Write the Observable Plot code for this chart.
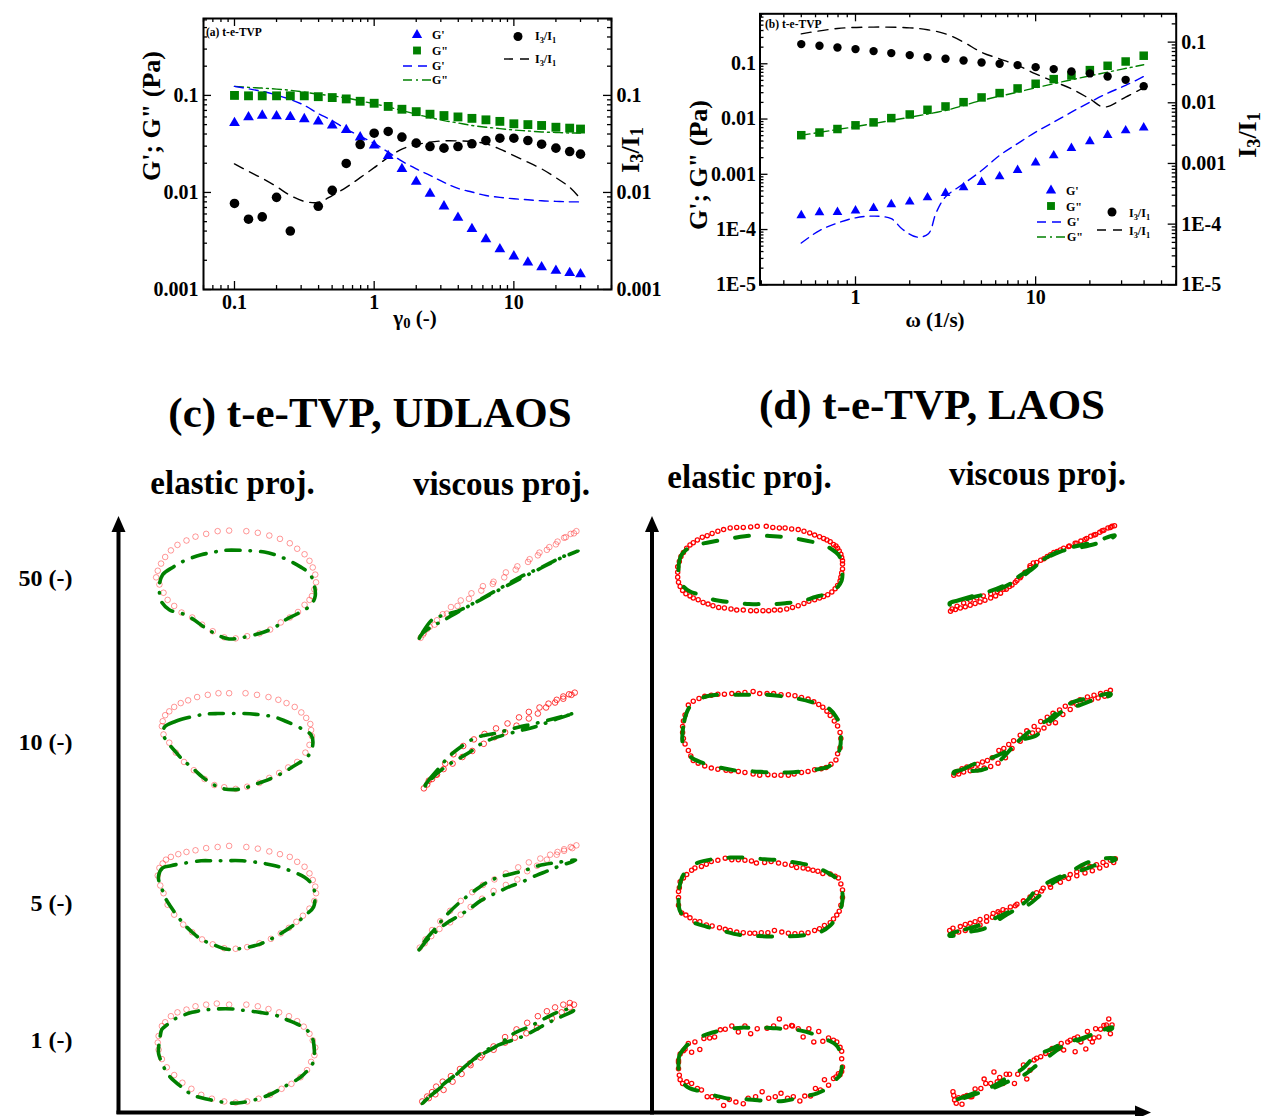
<!DOCTYPE html>
<html><head><meta charset="utf-8">
<script src="https://cdn.jsdelivr.net/npm/d3@7"></script>
<script src="https://cdn.jsdelivr.net/npm/@observablehq/plot@0.6"></script>
<style>
html,body{margin:0;padding:0;background:#fff;overflow:hidden}
#root{position:relative;width:1264px;height:1116px;overflow:hidden;font-family:"Liberation Serif","Times New Roman",Times,serif;font-weight:bold;color:#000;background:#fff}
.lbl{position:absolute;white-space:nowrap;font-weight:bold;line-height:1}
.lbl sub{font-size:0.7em;vertical-align:-0.22em;line-height:0}
</style></head>
<body><div id="root"></div>
<script>
// ================= panel (a): amplitude sweep =================
const gammaA = [0.1,0.126,0.158,0.2,0.251,0.316,0.398,0.501,0.631,0.794,1,1.26,1.58,2,2.51,3.16,3.98,5.01,6.31,7.94,10,12.6,15.8,20,25.1,30];
const GpA  = [0.052,0.0597,0.062,0.061,0.060,0.057,0.054,0.049,0.044,0.037,0.0305,0.0238,0.0175,0.0129,0.0097,0.0072,0.0055,0.0042,0.0033,0.0026,0.0022,0.0019,0.0017,0.00156,0.00148,0.00144];
const GppA = [0.1,0.099,0.099,0.099,0.099,0.099,0.097,0.095,0.092,0.087,0.083,0.077,0.072,0.068,0.064,0.062,0.060,0.058,0.056,0.054,0.051,0.050,0.049,0.047,0.046,0.045];
const I31A = [0.0077,0.0053,0.0056,0.0089,0.004,null,0.0072,0.0105,0.0199,0.0312,0.0408,0.0425,0.0372,0.0322,0.0297,0.0286,0.0297,0.0317,0.0343,0.0362,0.0362,0.0343,0.0314,0.0286,0.0264,0.0248];
const GpModelA  = [0.124,0.117,0.110,0.101,0.091,0.079,0.065,0.055,0.045,0.038,0.032,0.026,0.021,0.0175,0.015,0.0127,0.011,0.0101,0.0093,0.0089,0.0086,0.0084,0.0082,0.0081,0.008,0.008];
const GppModelA = [0.124,0.121,0.119,0.116,0.113,0.108,0.103,0.099,0.094,0.088,0.082,0.076,0.070,0.064,0.059,0.055,0.052,0.049,0.047,0.0455,0.044,0.043,0.042,0.0415,0.041,0.041];
const I31ModelA = [0.0197,0.0165,0.014,0.0115,0.0093,0.0081,0.0079,0.0093,0.0113,0.0142,0.018,0.023,0.028,0.031,0.033,0.034,0.034,0.0335,0.0317,0.028,0.024,0.0205,0.0175,0.0142,0.0113,0.0086];
const xTicksA = [0.1,1,10], xTickLabelsA = ["0.1","1","10"];
const yTicksA = [0.001,0.01,0.1], yTickLabelsA = ["0.001","0.01","0.1"];

// ================= panel (b): frequency sweep =================
const omegaB = [0.5,0.631,0.794,1,1.26,1.58,2,2.51,3.16,3.98,5.01,6.31,7.94,10,12.6,15.8,20,25.1,31.6,39.8];
const GpB  = [1.8e-4,2.04e-4,2.07e-4,2.2e-4,2.44e-4,2.85e-4,3.18e-4,3.8e-4,4.57e-4,5.8e-4,7.2e-4,9.1e-4,1.19e-3,1.62e-3,2.19e-3,2.98e-3,3.93e-3,5.1e-3,6.2e-3,7.0e-3];
const GppB = [5.1e-3,5.7e-3,6.6e-3,7.7e-3,8.7e-3,0.0104,0.0121,0.0147,0.0169,0.0202,0.0246,0.0295,0.0358,0.0435,0.0528,0.0615,0.0768,0.092,0.110,0.140];
const I31B = [0.0927,0.087,0.0817,0.0767,0.0711,0.0659,0.0611,0.0566,0.0531,0.0499,0.0462,0.044,0.0418,0.0387,0.0359,0.0328,0.0305,0.0272,0.0239,0.0188];
const omegaGpModelB = [0.5,0.631,0.794,1,1.26,1.58,1.83,2.2,2.54,2.8,3.16,3.98,5.01,6.31,7.94,10,12.6,15.8,20,25.1,31.6,39.8];
const GpModelB = [5.7e-5,9.6e-5,1.31e-4,1.63e-4,1.75e-4,1.57e-4,1.0e-4,7.3e-5,8.4e-5,2.0e-4,3.9e-4,6.7e-4,1.17e-3,2.2e-3,3.6e-3,5.8e-3,8.8e-3,0.0133,0.0202,0.0294,0.0406,0.059];
const omegaGppModelB = [0.5,1,2,3.16,5.01,7.94,10,15.8,25.1,39.8];
const GppModelB = [5.1e-3,7.3e-3,0.0108,0.0143,0.0217,0.0307,0.0368,0.0513,0.0707,0.096];
const omegaI31ModelB = [0.5,0.794,1.26,2,2.51,3.16,3.98,5.01,6.31,7.94,10,12.6,15.8,20,24,31.6,39.8];
const I31ModelB = [0.137,0.168,0.177,0.172,0.16,0.137,0.1,0.068,0.053,0.0413,0.030,0.0225,0.017,0.0116,0.0085,0.0124,0.0177];
const xTicksB = [1,10], xTickLabelsB = ["1","10"];
const yTicksB = [1e-5,1e-4,1e-3,1e-2,0.1], yTickLabelsB = ["1E-5","1E-4","0.001","0.01","0.1"];
const rTicksB = [1e-5,1e-4,1e-3,1e-2,0.1], rTickLabelsB = ["1E-5","1E-4","0.001","0.01","0.1"];

// ================= panels (c),(d): normalised Lissajous loops =================
const rowsLD = ["50","10","5","1"];
const colsLD = ["elastic","viscous"];
const colLabels = {elastic:"elastic proj.", viscous:"viscous proj."};
const rowLabels = {"50":"50 (-)","10":"10 (-)","5":"5 (-)","1":"1 (-)"};

// (c) UDLAOS
const cEl50Exp=[[-0.98,0.13],[-0.96,0.25],[-0.92,0.38],[-0.87,0.50],[-0.80,0.62],[-0.72,0.72],[-0.61,0.80],[-0.50,0.87],[-0.37,0.92],[-0.23,0.97],[-0.09,0.98],[0.12,0.97],[0.26,0.94],[0.40,0.89],[0.53,0.83],[0.65,0.75],[0.74,0.65],[0.83,0.55],[0.89,0.43],[0.93,0.31],[0.96,0.18],[0.97,0.04],[0.95,-0.09],[0.92,-0.21],[0.89,-0.28],[0.83,-0.37],[0.75,-0.50],[0.65,-0.60],[0.54,-0.69],[0.41,-0.82],[0.28,-0.89],[0.13,-0.94],[-0.01,-0.98],[-0.15,-0.96],[-0.29,-0.85],[-0.42,-0.73],[-0.54,-0.60],[-0.67,-0.51],[-0.76,-0.39],[-0.84,-0.28],[-0.89,-0.15],[-0.94,0.00]];
const cEl50Mod=[[-0.94,0.00],[-0.90,0.18],[-0.77,0.32],[-0.64,0.43],[-0.43,0.54],[-0.27,0.59],[-0.15,0.62],[0.07,0.62],[0.34,0.59],[0.47,0.54],[0.59,0.47],[0.78,0.32],[0.89,0.20],[0.94,0.04],[0.96,-0.21],[0.91,-0.37],[0.83,-0.46],[0.72,-0.55],[0.60,-0.64],[0.52,-0.73],[0.41,-0.82],[0.28,-0.89],[0.05,-0.97],[-0.09,-0.99],[-0.17,-0.96],[-0.29,-0.87],[-0.39,-0.78],[-0.54,-0.62],[-0.66,-0.53],[-0.82,-0.46],[-0.92,-0.30],[-0.94,-0.14]];
const cVi50Exp=[[-0.95,-0.97],[-0.92,-0.91],[-0.87,-0.81],[-0.78,-0.73],[-0.68,-0.54],[-0.58,-0.41],[-0.46,-0.29],[-0.33,-0.16],[-0.19,-0.03],[-0.06,0.05],[0.09,0.22],[0.23,0.33],[0.38,0.46],[0.50,0.58],[0.62,0.68],[0.72,0.78],[0.80,0.85],[0.88,0.92],[0.95,0.97],[0.92,0.93],[0.82,0.86],[0.70,0.73],[0.59,0.63],[0.48,0.53],[0.36,0.41],[0.21,0.27],[0.07,0.13],[-0.07,0.01],[-0.21,-0.11],[-0.36,-0.26],[-0.50,-0.39],[-0.63,-0.53],[-0.75,-0.65],[-0.84,-0.77],[-0.91,-0.88]];
const cVi50Mod=[[-0.97,-1.01],[-0.92,-0.86],[-0.80,-0.63],[-0.62,-0.54],[-0.46,-0.46],[-0.21,-0.26],[0.03,-0.06],[0.27,0.14],[0.52,0.31],[0.76,0.49],[0.97,0.61],[0.76,0.48],[0.52,0.30],[0.27,0.11],[0.03,-0.08],[-0.21,-0.27],[-0.46,-0.47],[-0.68,-0.66],[-0.84,-0.79],[-0.95,-0.93]];
const cEl10Exp=[[-0.91,0.26],[-0.90,0.35],[-0.87,0.46],[-0.82,0.53],[-0.76,0.61],[-0.68,0.68],[-0.59,0.73],[-0.48,0.79],[-0.35,0.83],[-0.22,0.86],[-0.09,0.86],[0.11,0.86],[0.25,0.83],[0.39,0.79],[0.51,0.74],[0.61,0.68],[0.71,0.61],[0.79,0.51],[0.85,0.41],[0.90,0.30],[0.91,0.19],[0.92,0.08],[0.89,-0.08],[0.84,-0.22],[0.74,-0.39],[0.63,-0.49],[0.52,-0.59],[0.40,-0.68],[0.28,-0.77],[0.13,-0.84],[-0.01,-0.88],[-0.15,-0.85],[-0.27,-0.81],[-0.39,-0.70],[-0.52,-0.54],[-0.64,-0.39],[-0.74,-0.22],[-0.82,-0.04],[-0.89,0.11]];
const cEl10Mod=[[-0.88,0.24],[-0.74,0.35],[-0.52,0.44],[-0.37,0.48],[-0.23,0.49],[-0.03,0.49],[0.09,0.49],[0.34,0.46],[0.48,0.42],[0.60,0.35],[0.80,0.21],[0.91,0.10],[0.93,-0.08],[0.87,-0.29],[0.76,-0.41],[0.68,-0.48],[0.60,-0.56],[0.34,-0.74],[0.20,-0.81],[0.07,-0.88],[-0.15,-0.88],[-0.27,-0.81],[-0.41,-0.67],[-0.56,-0.47],[-0.65,-0.36],[-0.74,-0.21],[-0.88,0.06]];
const cVi10Exp=[[-0.91,-0.87],[-0.87,-0.80],[-0.81,-0.70],[-0.75,-0.62],[-0.65,-0.42],[-0.55,-0.25],[-0.43,-0.10],[-0.30,0.02],[-0.17,0.12],[-0.03,0.22],[0.11,0.31],[0.25,0.42],[0.37,0.52],[0.50,0.60],[0.61,0.67],[0.71,0.74],[0.79,0.80],[0.86,0.84],[0.93,0.87],[0.89,0.83],[0.79,0.76],[0.69,0.69],[0.58,0.60],[0.48,0.49],[0.37,0.40],[0.22,0.27],[0.08,0.15],[-0.05,0.06],[-0.18,-0.06],[-0.32,-0.19],[-0.44,-0.30],[-0.56,-0.42],[-0.67,-0.52],[-0.76,-0.62],[-0.85,-0.73]];
const cVi10Mod=[[-0.93,-0.89],[-0.85,-0.72],[-0.73,-0.51],[-0.61,-0.30],[-0.49,-0.15],[-0.28,0.05],[-0.04,0.13],[0.24,0.24],[0.45,0.31],[0.73,0.42],[0.93,0.50],[0.69,0.38],[0.45,0.25],[0.24,0.17],[0.00,0.07],[-0.20,-0.05],[-0.33,-0.19],[-0.45,-0.30],[-0.61,-0.44],[-0.75,-0.60],[-0.85,-0.75]];
const cEl5Exp=[[-0.96,0.38],[-0.94,0.52],[-0.90,0.60],[-0.86,0.67],[-0.80,0.72],[-0.71,0.77],[-0.61,0.81],[-0.50,0.84],[-0.37,0.88],[-0.23,0.90],[-0.09,0.92],[0.12,0.90],[0.26,0.87],[0.40,0.82],[0.53,0.77],[0.65,0.72],[0.74,0.63],[0.83,0.54],[0.89,0.42],[0.93,0.30],[0.96,0.18],[0.97,0.06],[0.95,-0.08],[0.89,-0.22],[0.81,-0.35],[0.73,-0.46],[0.64,-0.57],[0.54,-0.67],[0.42,-0.77],[0.28,-0.85],[0.13,-0.92],[-0.01,-0.95],[-0.15,-0.94],[-0.29,-0.87],[-0.42,-0.78],[-0.54,-0.65],[-0.65,-0.51],[-0.76,-0.33],[-0.84,-0.15],[-0.89,0.06],[-0.93,0.20]];
const cEl5Mod=[[-0.95,0.38],[-0.90,0.52],[-0.80,0.56],[-0.66,0.60],[-0.43,0.65],[-0.29,0.65],[-0.17,0.65],[0.07,0.65],[0.34,0.60],[0.47,0.56],[0.60,0.50],[0.83,0.35],[0.91,0.24],[0.95,0.10],[0.94,-0.19],[0.83,-0.35],[0.74,-0.47],[0.50,-0.71],[0.38,-0.80],[0.28,-0.87],[0.03,-0.95],[-0.11,-0.96],[-0.29,-0.87],[-0.43,-0.78],[-0.54,-0.65],[-0.66,-0.47],[-0.86,-0.05],[-0.90,0.10],[-0.94,0.24]];
const cVi5Exp=[[-0.96,-0.93],[-0.89,-0.78],[-0.81,-0.61],[-0.71,-0.45],[-0.59,-0.26],[-0.46,-0.08],[-0.32,0.08],[-0.19,0.21],[-0.05,0.31],[0.09,0.42],[0.24,0.53],[0.37,0.62],[0.51,0.69],[0.63,0.76],[0.72,0.81],[0.80,0.86],[0.88,0.90],[0.95,0.93],[0.90,0.88],[0.80,0.83],[0.71,0.76],[0.59,0.67],[0.47,0.56],[0.35,0.46],[0.23,0.31],[0.09,0.21],[-0.06,0.10],[-0.20,-0.04],[-0.34,-0.19],[-0.46,-0.33],[-0.59,-0.47],[-0.72,-0.59],[-0.82,-0.72],[-0.90,-0.85]];
const cVi5Mod=[[-0.97,-0.97],[-0.89,-0.79],[-0.77,-0.58],[-0.63,-0.33],[-0.46,-0.09],[-0.26,0.14],[-0.16,0.24],[-0.02,0.34],[0.21,0.43],[0.35,0.49],[0.49,0.56],[0.72,0.62],[0.94,0.66],[0.72,0.54],[0.59,0.46],[0.47,0.39],[0.25,0.24],[0.15,0.19],[0.02,0.10],[-0.22,-0.08],[-0.32,-0.19],[-0.46,-0.33],[-0.63,-0.48],[-0.77,-0.65],[-0.87,-0.79]];
const cEl1Exp=[[-0.96,0.18],[-0.95,0.30],[-0.91,0.48],[-0.87,0.55],[-0.80,0.66],[-0.72,0.73],[-0.61,0.78],[-0.50,0.84],[-0.37,0.87],[-0.24,0.89],[-0.09,0.87],[0.12,0.87],[0.26,0.84],[0.39,0.79],[0.52,0.73],[0.64,0.66],[0.74,0.57],[0.82,0.47],[0.89,0.34],[0.93,0.22],[0.96,0.09],[0.95,-0.05],[0.91,-0.17],[0.86,-0.32],[0.78,-0.45],[0.67,-0.57],[0.55,-0.66],[0.41,-0.77],[0.27,-0.84],[0.13,-0.89],[-0.01,-0.91],[-0.15,-0.89],[-0.30,-0.84],[-0.43,-0.77],[-0.55,-0.66],[-0.66,-0.55],[-0.76,-0.41],[-0.85,-0.27],[-0.91,-0.12],[-0.95,0.05]];
const cEl1Mod=[[-0.95,0.09],[-0.93,0.30],[-0.91,0.42],[-0.85,0.50],[-0.74,0.62],[-0.54,0.73],[-0.40,0.77],[-0.26,0.79],[-0.03,0.79],[0.07,0.77],[0.29,0.73],[0.47,0.68],[0.59,0.61],[0.80,0.47],[0.90,0.34],[0.94,0.18],[0.94,-0.16],[0.88,-0.30],[0.78,-0.45],[0.56,-0.64],[0.43,-0.75],[0.27,-0.84],[0.07,-0.91],[-0.07,-0.92],[-0.22,-0.89],[-0.44,-0.82],[-0.54,-0.77],[-0.66,-0.64],[-0.83,-0.41],[-0.90,-0.22],[-0.95,-0.02]];
const cVi1Exp=[[-0.93,-0.89],[-0.87,-0.80],[-0.81,-0.72],[-0.76,-0.62],[-0.68,-0.53],[-0.58,-0.43],[-0.47,-0.30],[-0.35,-0.20],[-0.20,-0.05],[-0.06,0.11],[0.08,0.28],[0.22,0.42],[0.35,0.54],[0.48,0.66],[0.59,0.75],[0.69,0.82],[0.79,0.87],[0.87,0.90],[0.92,0.87],[0.87,0.82],[0.77,0.73],[0.65,0.62],[0.47,0.45],[0.34,0.35],[0.20,0.27],[0.08,0.18],[-0.06,0.05],[-0.22,-0.09],[-0.34,-0.23],[-0.45,-0.39],[-0.56,-0.53],[-0.67,-0.68],[-0.77,-0.76],[-0.85,-0.83]];
const cVi1Mod=[[-0.93,-0.93],[-0.83,-0.79],[-0.69,-0.62],[-0.55,-0.45],[-0.39,-0.23],[-0.22,-0.05],[-0.02,0.12],[0.18,0.34],[0.39,0.48],[0.59,0.64],[0.75,0.75],[0.92,0.80],[0.92,0.77],[0.75,0.64],[0.59,0.53],[0.45,0.41],[0.26,0.27],[0.04,0.16],[-0.18,0.02],[-0.35,-0.18],[-0.51,-0.39],[-0.65,-0.55],[-0.79,-0.73],[-0.89,-0.87]];

// (d) LAOS
const dEl50Exp=[[-1.01,-0.07],[-1.01,0.03],[-0.99,0.13],[-0.97,0.22],[-0.94,0.29],[-0.90,0.37],[-0.86,0.43],[-0.82,0.47],[-0.77,0.52],[-0.71,0.57],[-0.65,0.60],[-0.59,0.64],[-0.52,0.68],[-0.45,0.71],[-0.37,0.74],[-0.29,0.75],[-0.21,0.75],[-0.12,0.76],[-0.04,0.77],[0.07,0.77],[0.15,0.75],[0.23,0.74],[0.30,0.74],[0.38,0.72],[0.46,0.71],[0.53,0.68],[0.60,0.65],[0.66,0.61],[0.72,0.58],[0.77,0.55],[0.81,0.52],[0.85,0.49],[0.89,0.44],[0.92,0.41],[0.94,0.37],[0.96,0.32],[0.98,0.26],[0.99,0.20],[1.00,0.14],[1.00,0.08],[1.00,-0.01],[0.99,-0.08],[0.98,-0.16],[0.97,-0.23],[0.94,-0.31],[0.91,-0.37],[0.87,-0.43],[0.82,-0.48],[0.77,-0.51],[0.72,-0.54],[0.66,-0.57],[0.59,-0.60],[0.53,-0.64],[0.46,-0.68],[0.39,-0.71],[0.32,-0.74],[0.24,-0.76],[0.17,-0.76],[0.10,-0.77],[0.03,-0.77],[-0.05,-0.77],[-0.12,-0.77],[-0.21,-0.76],[-0.29,-0.76],[-0.36,-0.74],[-0.44,-0.72],[-0.51,-0.71],[-0.58,-0.68],[-0.64,-0.65],[-0.70,-0.62],[-0.76,-0.57],[-0.82,-0.54],[-0.86,-0.50],[-0.91,-0.46],[-0.95,-0.40],[-0.98,-0.33],[-1.00,-0.25],[-1.01,-0.16]];
const dEl50Mod=[[-1.00,-0.04],[-0.99,0.14],[-0.96,0.26],[-0.88,0.37],[-0.77,0.43],[-0.59,0.49],[-0.39,0.54],[-0.19,0.59],[0.00,0.60],[0.16,0.59],[0.32,0.57],[0.49,0.53],[0.65,0.48],[0.77,0.43],[0.87,0.35],[0.95,0.25],[0.99,0.11],[1.00,-0.07],[0.99,-0.22],[0.94,-0.34],[0.87,-0.42],[0.77,-0.48],[0.67,-0.52],[0.49,-0.60],[0.32,-0.63],[0.16,-0.65],[0.00,-0.65],[-0.14,-0.65],[-0.35,-0.62],[-0.57,-0.57],[-0.74,-0.48],[-0.86,-0.42],[-0.94,-0.33],[-0.99,-0.19]];
const dVi50Exp=[[-1.00,-0.78],[-0.94,-0.75],[-0.88,-0.72],[-0.82,-0.70],[-0.76,-0.67],[-0.70,-0.64],[-0.64,-0.61],[-0.58,-0.58],[-0.51,-0.54],[-0.45,-0.50],[-0.39,-0.45],[-0.32,-0.38],[-0.25,-0.30],[-0.19,-0.22],[-0.14,-0.14],[-0.09,-0.08],[-0.03,0.02],[0.05,0.11],[0.14,0.18],[0.22,0.25],[0.30,0.31],[0.38,0.37],[0.45,0.41],[0.52,0.46],[0.59,0.50],[0.66,0.55],[0.71,0.59],[0.77,0.62],[0.82,0.66],[0.87,0.70],[0.92,0.74],[0.97,0.77],[1.00,0.78],[0.95,0.75],[0.85,0.69],[0.75,0.61],[0.64,0.53],[0.54,0.46],[0.44,0.40],[0.34,0.34],[0.26,0.29],[0.18,0.22],[0.10,0.15],[0.01,0.10],[-0.03,0.05],[-0.09,-0.07],[-0.15,-0.17],[-0.21,-0.25],[-0.28,-0.33],[-0.35,-0.38],[-0.43,-0.42],[-0.51,-0.46],[-0.60,-0.50],[-0.68,-0.54],[-0.76,-0.58],[-0.84,-0.63],[-0.92,-0.69],[-0.98,-0.74]];
const dVi50Mod=[[-1.01,-0.63],[-0.90,-0.58],[-0.72,-0.50],[-0.51,-0.41],[-0.33,-0.30],[-0.13,-0.11],[-0.03,-0.01],[0.16,0.19],[0.36,0.34],[0.60,0.43],[0.77,0.49],[1.00,0.61],[1.00,0.59],[0.79,0.46],[0.54,0.37],[0.34,0.31],[0.14,0.16],[-0.03,-0.04],[-0.15,-0.17],[-0.35,-0.34],[-0.53,-0.45],[-0.74,-0.53],[-0.92,-0.62],[-1.01,-0.66]];
const dEl10Exp=[[-0.95,0.00],[-0.95,0.11],[-0.94,0.21],[-0.92,0.32],[-0.88,0.50],[-0.82,0.57],[-0.75,0.62],[-0.68,0.66],[-0.60,0.68],[-0.52,0.70],[-0.44,0.70],[-0.35,0.71],[-0.27,0.71],[-0.19,0.73],[-0.09,0.75],[-0.01,0.71],[0.08,0.71],[0.16,0.71],[0.25,0.69],[0.34,0.69],[0.42,0.67],[0.50,0.64],[0.58,0.61],[0.65,0.56],[0.71,0.51],[0.76,0.46],[0.81,0.39],[0.85,0.31],[0.90,0.21],[0.94,0.12],[0.97,0.00],[0.98,-0.11],[0.97,-0.28],[0.94,-0.39],[0.92,-0.50],[0.86,-0.58],[0.80,-0.64],[0.74,-0.66],[0.66,-0.68],[0.58,-0.71],[0.50,-0.73],[0.41,-0.76],[0.34,-0.78],[0.25,-0.78],[0.17,-0.78],[0.09,-0.77],[-0.01,-0.78],[-0.09,-0.76],[-0.19,-0.73],[-0.27,-0.71],[-0.36,-0.70],[-0.42,-0.69],[-0.52,-0.67],[-0.60,-0.65],[-0.68,-0.61],[-0.76,-0.56],[-0.82,-0.51],[-0.85,-0.43],[-0.88,-0.33],[-0.92,-0.21],[-0.94,-0.11]];
const dEl10Mod=[[-0.95,0.00],[-0.93,0.21],[-0.88,0.43],[-0.80,0.56],[-0.70,0.64],[-0.52,0.69],[-0.27,0.69],[-0.09,0.69],[0.07,0.69],[0.27,0.66],[0.48,0.61],[0.66,0.54],[0.76,0.49],[0.84,0.43],[0.92,0.29],[0.97,0.14],[0.98,-0.07],[0.97,-0.28],[0.90,-0.53],[0.82,-0.63],[0.74,-0.66],[0.58,-0.70],[0.34,-0.73],[0.13,-0.73],[-0.09,-0.71],[-0.27,-0.70],[-0.50,-0.64],[-0.68,-0.57],[-0.78,-0.51],[-0.84,-0.46],[-0.90,-0.32],[-0.95,-0.18]];
const dVi10Exp=[[-0.96,-0.78],[-0.92,-0.71],[-0.86,-0.66],[-0.80,-0.63],[-0.74,-0.61],[-0.67,-0.58],[-0.61,-0.54],[-0.55,-0.51],[-0.49,-0.46],[-0.41,-0.33],[-0.35,-0.29],[-0.29,-0.22],[-0.23,-0.15],[-0.15,-0.05],[-0.07,0.03],[0.02,0.11],[0.10,0.20],[0.18,0.28],[0.25,0.35],[0.33,0.41],[0.40,0.48],[0.48,0.54],[0.58,0.60],[0.67,0.65],[0.75,0.68],[0.83,0.71],[0.90,0.73],[0.95,0.77],[0.94,0.70],[0.88,0.66],[0.80,0.63],[0.72,0.60],[0.63,0.56],[0.54,0.51],[0.46,0.42],[0.37,0.33],[0.28,0.18],[0.20,0.17],[0.14,0.08],[0.07,0.04],[0.00,-0.01],[-0.07,-0.08],[-0.15,-0.16],[-0.25,-0.29],[-0.33,-0.46],[-0.42,-0.56],[-0.51,-0.62],[-0.59,-0.65],[-0.67,-0.68],[-0.76,-0.70],[-0.84,-0.72],[-0.90,-0.76]];
const dVi10Mod=[[-0.96,-0.72],[-0.86,-0.68],[-0.72,-0.58],[-0.51,-0.47],[-0.31,-0.33],[-0.13,-0.10],[0.04,0.11],[0.20,0.24],[0.32,0.40],[0.50,0.56],[0.73,0.64],[0.95,0.71],[0.95,0.68],[0.77,0.61],[0.58,0.50],[0.41,0.43],[0.20,0.18],[0.04,-0.06],[-0.17,-0.15],[-0.25,-0.28],[-0.45,-0.58],[-0.61,-0.68],[-0.80,-0.71],[-0.96,-0.75]];
const dEl5Exp=[[-1.00,-0.02],[-1.00,-0.16],[-0.96,-0.30],[-0.91,-0.34],[-0.86,-0.39],[-0.80,-0.45],[-0.74,-0.46],[-0.66,-0.52],[-0.59,-0.54],[-0.50,-0.57],[-0.43,-0.60],[-0.37,-0.62],[-0.29,-0.65],[-0.21,-0.66],[-0.13,-0.67],[-0.07,-0.67],[0.01,-0.66],[0.09,-0.66],[0.17,-0.62],[0.26,-0.65],[0.34,-0.67],[0.42,-0.68],[0.50,-0.67],[0.58,-0.66],[0.66,-0.62],[0.72,-0.59],[0.78,-0.53],[0.85,-0.48],[0.89,-0.41],[0.93,-0.34],[0.96,-0.27],[0.98,-0.16],[1.00,-0.02],[1.00,0.12],[0.98,0.23],[0.95,0.34],[0.91,0.37],[0.85,0.41],[0.76,0.42],[0.70,0.46],[0.64,0.48],[0.58,0.50],[0.52,0.52],[0.44,0.53],[0.38,0.57],[0.30,0.59],[0.22,0.61],[0.13,0.64],[0.05,0.62],[-0.05,0.61],[-0.11,0.65],[-0.19,0.66],[-0.27,0.67],[-0.35,0.67],[-0.43,0.70],[-0.52,0.66],[-0.60,0.64],[-0.66,0.59],[-0.72,0.55],[-0.80,0.52],[-0.84,0.48],[-0.90,0.40],[-0.94,0.34],[-0.98,0.27],[-0.99,0.16],[-1.00,0.09]];
const dEl5Mod=[[-1.00,-0.02],[-0.99,0.16],[-0.95,0.37],[-0.86,0.54],[-0.76,0.62],[-0.58,0.68],[-0.37,0.71],[-0.17,0.71],[0.05,0.68],[0.26,0.66],[0.46,0.61],[0.66,0.55],[0.80,0.45],[0.91,0.35],[0.97,0.23],[1.00,0.05],[0.99,-0.16],[0.93,-0.37],[0.85,-0.53],[0.74,-0.64],[0.56,-0.70],[0.32,-0.73],[0.13,-0.73],[-0.07,-0.72],[-0.26,-0.70],[-0.48,-0.62],[-0.66,-0.55],[-0.86,-0.45],[-0.94,-0.36],[-0.99,-0.23]];
const dVi5Exp=[[-1.01,-0.62],[-0.97,-0.58],[-0.88,-0.55],[-0.82,-0.51],[-0.76,-0.49],[-0.70,-0.46],[-0.64,-0.42],[-0.56,-0.37],[-0.48,-0.31],[-0.42,-0.28],[-0.36,-0.24],[-0.27,-0.19],[-0.19,-0.14],[-0.11,-0.08],[-0.03,-0.01],[0.05,0.07],[0.13,0.15],[0.21,0.22],[0.29,0.29],[0.38,0.35],[0.46,0.40],[0.54,0.45],[0.62,0.50],[0.70,0.55],[0.78,0.58],[0.86,0.62],[0.95,0.66],[1.01,0.69],[0.99,0.62],[0.90,0.57],[0.82,0.52],[0.73,0.47],[0.64,0.43],[0.54,0.38],[0.44,0.33],[0.34,0.26],[0.22,0.17],[0.11,0.10],[0.00,-0.02],[-0.11,-0.08],[-0.21,-0.17],[-0.32,-0.26],[-0.40,-0.31],[-0.49,-0.38],[-0.56,-0.45],[-0.64,-0.52],[-0.72,-0.58],[-0.82,-0.62],[-0.90,-0.65],[-0.97,-0.69]];
const dVi5Mod=[[-1.01,-0.69],[-0.82,-0.60],[-0.62,-0.51],[-0.42,-0.37],[-0.23,-0.24],[-0.07,-0.08],[0.05,0.13],[0.23,0.29],[0.46,0.45],[0.64,0.60],[0.84,0.69],[1.01,0.69],[1.01,0.67],[0.82,0.60],[0.62,0.49],[0.46,0.42],[0.27,0.27],[0.09,0.02],[-0.05,-0.15],[-0.23,-0.26],[-0.46,-0.47],[-0.58,-0.58],[-0.78,-0.65],[-1.01,-0.72]];
const dEl1Exp=[[0.23,0.76],[0.38,0.64],[0.31,0.61],[0.16,0.63],[0.08,0.59],[-0.04,0.58],[-0.12,0.49],[-0.19,0.63],[-0.27,0.52],[-0.35,0.63],[-0.43,0.57],[-0.49,0.56],[-0.56,0.43],[-0.62,0.41],[-0.69,0.40],[-0.80,0.34],[-0.88,0.31],[-0.92,0.21],[-0.94,0.18],[-0.98,0.12],[-0.84,0.15],[-0.74,0.20],[-1.00,0.00],[-1.00,-0.03],[-1.00,-0.15],[-0.99,-0.27],[-0.98,-0.35],[-0.95,-0.42],[-0.90,-0.39],[-0.84,-0.42],[-0.77,-0.51],[-0.72,-0.54],[-0.65,-0.66],[-0.59,-0.66],[-0.52,-0.68],[-0.45,-0.82],[-0.38,-0.71],[-0.30,-0.76],[-0.21,-0.79],[-0.15,-0.69],[-0.06,-0.66],[0.02,-0.57],[0.10,-0.69],[0.18,-0.66],[0.25,-0.60],[0.33,-0.69],[0.40,-0.66],[0.48,-0.74],[0.54,-0.65],[0.61,-0.65],[0.67,-0.51],[0.73,-0.54],[0.78,-0.35],[0.83,-0.45],[0.89,-0.33],[0.92,-0.30],[0.95,-0.24],[0.97,-0.26],[0.99,-0.20],[1.00,-0.12],[0.99,0.03],[0.99,0.17],[0.97,0.24],[0.93,0.34],[0.89,0.37],[0.83,0.41],[0.76,0.35],[0.71,0.53],[0.65,0.34],[0.59,0.58],[0.52,0.43],[0.46,0.58],[0.39,0.63]];
const dEl1Mod=[[-1.00,-0.09],[-0.99,0.09],[-0.92,0.24],[-0.82,0.37],[-0.63,0.49],[-0.47,0.55],[-0.23,0.60],[-0.04,0.59],[0.06,0.60],[0.25,0.58],[0.48,0.55],[0.65,0.48],[0.81,0.38],[0.93,0.27],[0.99,0.06],[0.99,-0.15],[0.97,-0.27],[0.91,-0.36],[0.81,-0.51],[0.69,-0.60],[0.52,-0.66],[0.28,-0.74],[0.09,-0.74],[-0.15,-0.71],[-0.33,-0.71],[-0.53,-0.65],[-0.74,-0.56],[-0.86,-0.51],[-0.92,-0.45],[-0.99,-0.27]];
const dVi1Exp=[[-0.97,-0.57],[-0.96,-0.64],[-0.95,-0.72],[-0.93,-0.78],[-0.86,-0.80],[-0.90,-0.68],[-0.84,-0.66],[-0.80,-0.64],[-0.76,-0.66],[-0.74,-0.66],[-0.70,-0.52],[-0.63,-0.51],[-0.59,-0.34],[-0.57,-0.42],[-0.51,-0.42],[-0.47,-0.21],[-0.43,-0.39],[-0.40,-0.31],[-0.36,-0.42],[-0.32,-0.25],[-0.28,-0.25],[-0.22,-0.42],[-0.18,-0.25],[-0.11,-0.08],[-0.07,-0.34],[-0.03,-0.18],[0.02,0.01],[0.05,0.04],[0.10,0.07],[0.16,0.13],[0.20,0.16],[0.24,0.22],[0.28,0.23],[0.32,0.22],[0.35,0.31],[0.38,0.19],[0.43,0.34],[0.46,0.37],[0.51,0.40],[0.52,0.16],[0.55,0.43],[0.59,0.34],[0.65,0.21],[0.67,0.53],[0.70,0.40],[0.73,0.34],[0.75,0.41],[0.77,0.58],[0.81,0.43],[0.83,0.57],[0.87,0.64],[0.90,0.65],[0.93,0.76],[0.94,0.57],[0.95,0.49],[0.97,0.65]];
const dVi1Mod=[[-0.97,-0.74],[-0.86,-0.68],[-0.67,-0.57],[-0.47,-0.46],[-0.30,-0.30],[-0.13,-0.16],[0.05,0.10],[0.20,0.19],[0.40,0.33],[0.57,0.39],[0.79,0.51],[0.97,0.61],[0.97,0.58],[0.81,0.53],[0.57,0.37],[0.42,0.31],[0.23,0.11],[0.08,-0.05],[-0.09,-0.25],[-0.26,-0.36],[-0.47,-0.50],[-0.67,-0.60],[-0.86,-0.70],[-0.97,-0.75]];

const loopsC = [
  ["elastic","50",cEl50Exp,cEl50Mod],["viscous","50",cVi50Exp,cVi50Mod],
  ["elastic","10",cEl10Exp,cEl10Mod],["viscous","10",cVi10Exp,cVi10Mod],
  ["elastic","5",cEl5Exp,cEl5Mod],["viscous","5",cVi5Exp,cVi5Mod],
  ["elastic","1",cEl1Exp,cEl1Mod],["viscous","1",cVi1Exp,cVi1Mod]
];
const loopsD = [
  ["elastic","50",dEl50Exp,dEl50Mod],["viscous","50",dVi50Exp,dVi50Mod],
  ["elastic","10",dEl10Exp,dEl10Mod],["viscous","10",dVi10Exp,dVi10Mod],
  ["elastic","5",dEl5Exp,dEl5Mod],["viscous","5",dVi5Exp,dVi5Mod],
  ["elastic","1",dEl1Exp,dEl1Mod],["viscous","1",dVi1Exp,dVi1Mod]
];

// ================= helpers =================
const serif = '"Liberation Serif","Times New Roman",Times,serif';
const root = document.getElementById("root");
function put(node, left, top) {
  node.style.position = "absolute"; node.style.left = left + "px"; node.style.top = top + "px";
  root.appendChild(node);
}
function label(html, cx, cy, size, rot) {
  const d = document.createElement("div");
  d.className = "lbl"; d.innerHTML = html;
  d.style.left = cx + "px"; d.style.top = cy + "px"; d.style.fontSize = size + "px";
  d.style.transform = "translate(-50%,-50%)" + (rot ? " rotate(-90deg)" : "");
  root.appendChild(d);
}
function logRange(lo, hi) {
  const maj = [], min = [];
  for (let e = Math.floor(Math.log10(lo)); e <= Math.ceil(Math.log10(hi)); e++) {
    for (let m = 1; m < 10; m++) {
      const v = m * Math.pow(10, e);
      if (v < lo * 0.999 || v > hi * 1.001) continue;
      (m === 1 ? maj : min).push(v);
    }
  }
  return {maj, min};
}
const fmtDecade = (ticks, labels) => {
  const m = new Map(ticks.map((t, i) => [Math.round(Math.log10(t)), labels[i]]));
  return d => m.get(Math.round(Math.log10(d))) ?? "";
};
function frameTicks(xr, yl, yr, iw, ih, big = 8, small = 4) {
  const o = {stroke: "black", strokeWidth: 1.3};
  return [
    Plot.tickX(xr.maj, {x: d => d, insetTop: ih - big, ...o}),
    Plot.tickX(xr.min, {x: d => d, insetTop: ih - small, ...o}),
    Plot.tickX(xr.maj, {x: d => d, insetBottom: ih - big, ...o}),
    Plot.tickX(xr.min, {x: d => d, insetBottom: ih - small, ...o}),
    Plot.tickY(yl.maj, {y: d => d, insetRight: iw - big, ...o}),
    Plot.tickY(yl.min, {y: d => d, insetRight: iw - small, ...o}),
    Plot.tickY(yr.maj, {y: d => d, insetLeft: iw - big, ...o}),
    Plot.tickY(yr.min, {y: d => d, insetLeft: iw - small, ...o})
  ];
}
const axisFont = {fontSize: 20, fontWeight: "bold", fontFamily: serif, label: null, tickSize: 0};
const plotStyle = {fontFamily: serif, fontWeight: "bold", fontSize: "20px", background: "transparent", overflow: "visible", color: "black"};

// ================= panel (a) =================
{
  const L = {left: 130, width: 550, height: 330, ml: 73, mr: 69, mt: 18, mb: 41};
  const iw = L.width - L.ml - L.mr, ih = L.height - L.mt - L.mb;
  const xd = [0.06, 50], yd = [0.001, 0.62];
  const xr = logRange(...xd), yr = logRange(...yd);
  const rows = gammaA.map((g, i) => ({g, gp: GpA[i], gpp: GppA[i], i31: I31A[i], gpm: GpModelA[i], gppm: GppModelA[i], i31m: I31ModelA[i]}));
  const svg = Plot.plot({
    width: L.width, height: L.height, marginLeft: L.ml, marginRight: L.mr, marginTop: L.mt, marginBottom: L.mb,
    x: {type: "log", domain: xd}, y: {type: "log", domain: yd}, style: plotStyle,
    marks: [
      ...frameTicks(xr, yr, yr, iw, ih),
      Plot.axisX({...axisFont, ticks: xTicksA, tickFormat: fmtDecade(xTicksA, xTickLabelsA), tickPadding: 5}),
      Plot.axisY({...axisFont, anchor: "left", ticks: yTicksA, tickFormat: fmtDecade(yTicksA, yTickLabelsA), tickPadding: 5}),
      Plot.axisY({...axisFont, anchor: "right", ticks: yTicksA, tickFormat: fmtDecade(yTicksA, yTickLabelsA), tickPadding: 5}),
      Plot.line(rows, {x: "g", y: "gppm", stroke: "#008000", strokeWidth: 1.4, strokeDasharray: "9,4,2,4", curve: "catmull-rom"}),
      Plot.line(rows, {x: "g", y: "gpm", stroke: "#0000ff", strokeWidth: 1.4, strokeDasharray: "9,6", curve: "catmull-rom"}),
      Plot.line(rows, {x: "g", y: "i31m", stroke: "black", strokeWidth: 1.4, strokeDasharray: "10,7", curve: "catmull-rom"}),
      Plot.dot(rows, {x: "g", y: "gpp", symbol: "square", fill: "#008000", r: 5}),
      Plot.dot(rows, {x: "g", y: "gp", symbol: "triangle", fill: "#0000ff", r: 4}),
      Plot.dot(rows.filter(d => d.i31 != null), {x: "g", y: "i31", fill: "black", r: 4.8}),
      Plot.frame({stroke: "black", strokeWidth: 2})
    ]
  });
  put(svg, L.left, 0);
}

// ================= panel (b) =================
{
  const L = {left: 680, width: 584, height: 330, ml: 79.5, mr: 88.3, mt: 13.3, mb: 45.7};
  const iw = L.width - L.ml - L.mr, ih = L.height - L.mt - L.mb;
  const xd = [0.295, 60.3], yd = [1e-5, 0.803];
  const rightLo = 1e-5, rightHi = 0.293;
  // right axis (I3/I1) shares the bottom of the left axis but has a longer decade
  const k = (Math.log10(yd[1]) + 5) / (Math.log10(rightHi) + 5);
  const toLeft = v => Math.pow(10, -5 + (Math.log10(v) + 5) * k);
  const xr = logRange(...xd), yl = logRange(...yd);
  const rr0 = logRange(rightLo, rightHi);
  const yr = {maj: rr0.maj.map(toLeft), min: rr0.min.map(toLeft)};
  const rows = omegaB.map((w, i) => ({w, gp: GpB[i], gpp: GppB[i], i31: toLeft(I31B[i])}));
  const gpm = omegaGpModelB.map((w, i) => ({w, v: GpModelB[i]}));
  const gppm = omegaGppModelB.map((w, i) => ({w, v: GppModelB[i]}));
  const i31m = omegaI31ModelB.map((w, i) => ({w, v: toLeft(I31ModelB[i])}));
  const rLab = rTicksB.map((t, i) => ({y: toLeft(t), text: rTickLabelsB[i]}));
  const svg = Plot.plot({
    width: L.width, height: L.height, marginLeft: L.ml, marginRight: L.mr, marginTop: L.mt, marginBottom: L.mb,
    x: {type: "log", domain: xd}, y: {type: "log", domain: yd}, style: plotStyle,
    marks: [
      ...frameTicks(xr, yl, yr, iw, ih),
      Plot.axisX({...axisFont, ticks: xTicksB, tickFormat: fmtDecade(xTicksB, xTickLabelsB), tickPadding: 5}),
      Plot.axisY({...axisFont, anchor: "left", ticks: yTicksB, tickFormat: fmtDecade(yTicksB, yTickLabelsB), tickPadding: 4}),
      Plot.text(rLab, {y: "y", text: "text", frameAnchor: "right", textAnchor: "start", dx: 5, fontSize: 20, fontWeight: "bold", fontFamily: serif, fill: "black"}),
      Plot.line(gppm, {x: "w", y: "v", stroke: "#008000", strokeWidth: 1.4, strokeDasharray: "9,4,2,4", curve: "catmull-rom"}),
      Plot.line(gpm, {x: "w", y: "v", stroke: "#0000ff", strokeWidth: 1.4, strokeDasharray: "9,6", curve: "catmull-rom"}),
      Plot.line(i31m, {x: "w", y: "v", stroke: "black", strokeWidth: 1.4, strokeDasharray: "10,7", curve: "catmull-rom"}),
      Plot.dot(rows, {x: "w", y: "gpp", symbol: "square", fill: "#008000", r: 4.8}),
      Plot.dot(rows, {x: "w", y: "gp", symbol: "triangle", fill: "#0000ff", r: 3.6}),
      Plot.dot(rows, {x: "w", y: "i31", fill: "black", r: 4.2}),
      Plot.frame({stroke: "black", strokeWidth: 2})
    ]
  });
  put(svg, L.left, 0);
}

// ================= panels (c) and (d): faceted Lissajous grids =================
function loopPlot(loops, cfg) {
  const exp = loops.flatMap(([col, row, e]) => e.map(([x, y]) => ({col, row, x, y, strong: cfg.strong.has(col + row)})));
  const mod = loops.flatMap(([col, row, , m]) => m.map(([x, y]) => ({col, row, x, y, id: col + row})));
  const facetW = cfg.facetW, facetH = cfg.facetH, ux = 82, uy = 55;
  const headFont = {anchor: "top", tickSize: 0, tickPadding: cfg.hp, tickFormat: d => colLabels[d], fontSize: 33, fontWeight: "bold", fontFamily: serif, label: null};
  const rowAxes = cfg.rowDy ? rowsLD.map((r, i) => Plot.axisFy({ticks: [r], anchor: "left", tickSize: 0, tickPadding: 33, dy: cfg.rowDy[i], tickFormat: d => rowLabels[d], fontSize: 24, fontWeight: "bold", fontFamily: serif, label: null})) : [];
  return Plot.plot({
    width: cfg.ml + 2 * facetW, height: cfg.mt + 4 * facetH,
    marginLeft: cfg.ml, marginRight: 0, marginTop: cfg.mt, marginBottom: 0,
    x: {domain: [-facetW / 2 / ux, facetW / 2 / ux], axis: null},
    y: {domain: [-facetH / 2 / uy, facetH / 2 / uy], axis: null},
    fx: {domain: colsLD, padding: 0}, fy: {domain: rowsLD, padding: 0, axis: cfg.rowDy ? undefined : null},
    style: {...plotStyle, fontSize: "24px"},
    marks: [
      Plot.axisFx({...headFont, ticks: ["elastic"], dy: cfg.hdy, dx: cfg.dxE}),
      Plot.axisFx({...headFont, ticks: ["viscous"], dy: cfg.hdy2, dx: cfg.dxV}),
      ...rowAxes,
      Plot.dot(exp.filter(d => !d.strong), {fx: "col", fy: "row", x: "x", y: "y", r: cfg.r, stroke: "#ff0000", strokeOpacity: cfg.op, strokeWidth: cfg.sw, fill: "none"}),
      Plot.dot(exp.filter(d => d.strong), {fx: "col", fy: "row", x: "x", y: "y", r: cfg.r, stroke: "#ff0000", strokeOpacity: 0.75, strokeWidth: cfg.sw, fill: "none"}),
      Plot.line(mod, {fx: "col", fy: "row", x: "x", y: "y", z: "id", curve: "catmull-rom-closed", stroke: "#008000", strokeWidth: cfg.lw, strokeDasharray: cfg.dash, strokeLinecap: "round"})
    ]
  });
}
const plotC = loopPlot(loopsC, {facetW: 262, facetH: 156, ml: 105, mt: 60, hp: 13, hdy: 0, hdy2: 1, dxE: -4, dxV: 3, rowDy: [-6, 2, 7, -12],
  r: 2.8, op: 0.4, sw: 1, lw: 3.6, dash: "14,10,0.5,10", strong: new Set(["viscous10", "viscous1"])});
put(plotC, 0, 446);
const plotD = loopPlot(loopsD, {facetW: 272, facetH: 164.7, ml: 0, mt: 50, hp: 0, hdy: 1.5, hdy2: -1, dxE: -11, dxV: 5, rowDy: null,
  r: 2.1, op: 1, sw: 1.3, lw: 4, dash: "14,18", strong: new Set()});
put(plotD, 624, 435.45);

// ================= text labels =================
label("(c) t-e-TVP, UDLAOS", 370, 412, 43, false);
label("(d) t-e-TVP, LAOS", 932, 404, 43, false);
label("&gamma;<sub>0</sub> (-)", 415, 318, 21, false);
label("&omega; (1/s)", 935, 320, 21, false);
label("G&#39;; G&quot; (Pa)", 152, 116, 26, true);
label("I<sub>3</sub>/I<sub>1</sub>", 631, 150, 26, true);
label("G&#39;; G&quot; (Pa)", 699, 165, 26, true);
label("I<sub>3</sub>/I<sub>1</sub>", 1248, 135, 26, true);

// ================= legends + axis arrows (decoration) =================
const deco = d3.select(root).append("svg").attr("width", 1264).attr("height", 1116)
  .style("position", "absolute").style("left", 0).style("top", 0)
  .style("font-family", serif).style("font-weight", "bold").style("pointer-events", "none");
function legText(x, y, parts, size = 12) {
  const t = deco.append("text").attr("x", x).attr("y", y).attr("font-size", size);
  let sub = false;
  for (const p of parts) {
    const isSub = typeof p === "object";
    const s = t.append("tspan").text(isSub ? p.s : p);
    if (isSub && !sub) s.attr("dy", size * 0.25).attr("font-size", size * 0.7);
    else if (isSub) s.attr("font-size", size * 0.7);
    else if (!isSub && sub) s.attr("dy", -size * 0.25);
    sub = isSub;
  }
}
const I31parts = ["I", {s: "3"}, "/I", {s: "1"}];
function legend(o) {
  deco.append("path").attr("d", d3.symbol(d3.symbolTriangle, 46)()).attr("transform", `translate(${o.tri})`).attr("fill", "#0000ff");
  deco.append("path").attr("d", d3.symbol(d3.symbolSquare, 62)()).attr("transform", `translate(${o.sq})`).attr("fill", "#008000");
  deco.append("line").attr("x1", o.bl[0]).attr("x2", o.bl[1]).attr("y1", o.bl[2]).attr("y2", o.bl[2]).attr("stroke", "#0000ff").attr("stroke-width", 1.4).attr("stroke-dasharray", "9,6");
  deco.append("line").attr("x1", o.gl[0]).attr("x2", o.gl[1]).attr("y1", o.gl[2]).attr("y2", o.gl[2]).attr("stroke", "#008000").attr("stroke-width", 1.4).attr("stroke-dasharray", "9,4,2,4");
  deco.append("circle").attr("cx", o.ci[0]).attr("cy", o.ci[1]).attr("r", 4.5).attr("fill", "black");
  deco.append("line").attr("x1", o.kl[0]).attr("x2", o.kl[1]).attr("y1", o.kl[2]).attr("y2", o.kl[2]).attr("stroke", "black").attr("stroke-width", 1.4).attr("stroke-dasharray", "9,7");
  legText(o.t1[0], o.t1[1], ["G'"]);
  legText(o.t2[0], o.t2[1], ['G"']);
  legText(o.t3[0], o.t3[1], ["G'"]);
  legText(o.t4[0], o.t4[1], ['G"']);
  legText(o.t5[0], o.t5[1], I31parts);
  legText(o.t6[0], o.t6[1], I31parts);
}
legend({tri: [417, 35], sq: [417, 50.5], bl: [403, 431, 66], gl: [403, 431, 80], ci: [518, 36.5], kl: [504, 530, 59],
  t1: [432, 39], t2: [432, 55], t3: [432, 70], t4: [432, 84], t5: [535, 40], t6: [535, 63]});
legend({tri: [1051, 190.5], sq: [1051, 206], bl: [1037, 1066, 222], gl: [1037, 1066, 237], ci: [1112, 212], kl: [1097, 1125, 230],
  t1: [1066, 195], t2: [1066, 211], t3: [1067, 226], t4: [1067, 241], t5: [1129, 217], t6: [1129, 235]});
legText(206, 36, ["(a) t-e-TVP"], 11.5);
legText(765, 28, ["(b) t-e-TVP"], 11.5);

// axis arrows of the Lissajous grid
function seg(x1, y1, x2, y2) { deco.append("line").attr("x1", x1).attr("y1", y1).attr("x2", x2).attr("y2", y2).attr("stroke", "black").attr("stroke-width", 4); }
seg(118.5, 1114, 118.5, 528);
deco.append("path").attr("d", "M118.5,516 L125.5,532 L111.5,532 Z").attr("fill", "black");
seg(116.5, 1112.5, 654, 1112.5);
seg(652, 1114, 652, 530);
deco.append("path").attr("d", "M652,516 L659,532 L645,532 Z").attr("fill", "black");
seg(650, 1112.5, 1140, 1112.5);
deco.append("path").attr("d", "M1151,1112.5 L1135,1105.5 L1135,1119.5 Z").attr("fill", "black");
</script>
</body></html>
